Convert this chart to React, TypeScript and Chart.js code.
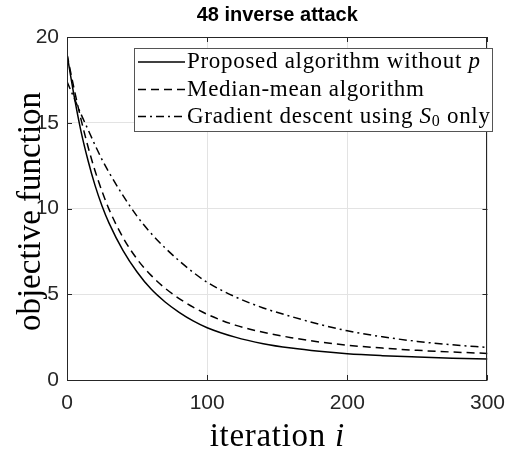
import React, { useEffect, useRef } from "react";
import { Chart, registerables } from "chart.js";

Chart.register(...registerables);

// ---- data ----
const iterations = [0, 5, 10, 15, 20, 25, 30, 40, 50, 60, 70, 80, 90, 100, 120, 140, 160, 180, 200, 225, 250, 275, 300];
const proposed = [19, 16.6, 14.5, 12.8, 11.35, 10.15, 9.15, 7.55, 6.3, 5.3, 4.55, 3.95, 3.45, 3.05, 2.5, 2.12, 1.86, 1.67, 1.53, 1.42, 1.34, 1.27, 1.22];
const medianMean = [19, 17.0, 15.2, 13.6, 12.2, 11.0, 9.95, 8.3, 7.05, 6.1, 5.35, 4.75, 4.25, 3.83, 3.2, 2.78, 2.47, 2.22, 2.03, 1.86, 1.73, 1.63, 1.55];
const gradientS0 = [17.4, 16.45, 15.5, 14.6, 13.7, 12.85, 12.1, 10.75, 9.55, 8.55, 7.7, 6.95, 6.28, 5.7, 4.85, 4.2, 3.7, 3.25, 2.87, 2.52, 2.25, 2.05, 1.9];
const xTicks = [0, 100, 200, 300];
const yTicks = [0, 5, 10, 15, 20];
const seriesLabels = ["Proposed algorithm without p", "Median-mean algorithm", "Gradient descent using S0 only"];
// legend text pieces: [text, style] where style: n = normal, i = italic, s = subscript
const legendParts: [string, string][][] = [
  [["Proposed algorithm without ", "n"], ["p", "i"]],
  [["Median-mean algorithm", "n"]],
  [["Gradient descent using ", "n"], ["S", "i"], ["0", "s"], [" only", "n"]],
];
const chartTitle = "48 inverse attack";
const xTitle: [string, string][] = [["iteration ", "n"], ["i", "i"]];
const yTitle = "objective function";

const AXIS = "#262626";
const SERIF = "'Liberation Serif', 'Times New Roman', serif";
const SANS = "'Liberation Sans', Arial, sans-serif";

const toXY = (ys: number[]) => iterations.map((x, i) => ({ x, y: ys[i] }));

function drawParts(ctx: CanvasRenderingContext2D, parts: [string, string][], x: number, y: number, size: number, spacing: number) {
  let cx = x;
  for (const [t, s] of parts) {
    const fs = s === "s" ? Math.round(size * 0.7) : size;
    ctx.font = `${s === "i" ? "italic " : ""}${fs}px ${SERIF}`;
    (ctx as any).letterSpacing = `${spacing}px`;
    const dy = s === "s" ? size * 0.22 : 0;
    ctx.fillText(t, cx, y + dy);
    cx += ctx.measureText(t).width;
  }
  (ctx as any).letterSpacing = "0px";
  return cx - x;
}

const decorPlugin = {
  id: "matlabDecor",
  afterDraw(chart: any) {
    const ctx: CanvasRenderingContext2D = chart.ctx;
    const { left, right, top, bottom } = chart.chartArea;
    const xs = chart.scales.x;
    const ys = chart.scales.y;
    ctx.save();
    // box
    ctx.strokeStyle = AXIS;
    ctx.lineWidth = 1;
    ctx.strokeRect(Math.round(left) + 0.5, Math.round(top) + 0.5, Math.round(right - left) - 1, Math.round(bottom - top));
    // inward ticks
    const tl = 5;
    ctx.beginPath();
    for (const v of xTicks) {
      const px = Math.round(xs.getPixelForValue(v)) + 0.5;
      ctx.moveTo(px, bottom);
      ctx.lineTo(px, bottom - tl);
      ctx.moveTo(px, top);
      ctx.lineTo(px, top + tl);
    }
    for (const v of yTicks) {
      const py = Math.round(ys.getPixelForValue(v)) + 0.5;
      ctx.moveTo(left, py);
      ctx.lineTo(left + tl, py);
      ctx.moveTo(right, py);
      ctx.lineTo(right - tl, py);
    }
    ctx.stroke();

    // legend
    const lx = 134, ly = 48, lw = 358, lh = 83;
    ctx.fillStyle = "#ffffff";
    ctx.fillRect(lx, ly, lw, lh);
    ctx.strokeStyle = "#555555";
    ctx.strokeRect(lx + 0.5, ly + 0.5, lw, lh);
    const rowY = [62, 89.5, 116.5];
    chart.data.datasets.forEach((ds: any, i: number) => {
      const y = rowY[i];
      ctx.save();
      ctx.strokeStyle = ds.borderColor;
      ctx.lineWidth = ds.borderWidth;
      ctx.setLineDash(ds.borderDash || []);
      ctx.beginPath();
      ctx.moveTo(138, y);
      ctx.lineTo(185, y);
      ctx.stroke();
      ctx.restore();
      ctx.fillStyle = "#000000";
      ctx.textBaseline = "middle";
      ctx.textAlign = "left";
      drawParts(ctx, legendParts[i], 187, y, 23, 0.7);
    });

    // axis titles
    ctx.fillStyle = "#000000";
    ctx.textBaseline = "alphabetic";
    ctx.textAlign = "left";
    (ctx as any).letterSpacing = "0.7px";
    let w = 0;
    for (const [t, s] of xTitle) {
      ctx.font = `${s === "i" ? "italic " : ""}33px ${SERIF}`;
      w += ctx.measureText(t).width;
    }
    (ctx as any).letterSpacing = "0px";
    const cxTitle = (left + right) / 2;
    drawParts(ctx, xTitle, cxTitle - w / 2, 446, 33, 0.7);

    ctx.save();
    ctx.translate(40, (top + bottom) / 2 + 3);
    ctx.rotate(-Math.PI / 2);
    ctx.font = `33px ${SERIF}`;
    ctx.textAlign = "center";
    ctx.fillText(yTitle, 0, 0);
    ctx.restore();

    ctx.restore();
  },
};

export default function App() {
  const ref = useRef<HTMLCanvasElement | null>(null);
  useEffect(() => {
    if (!ref.current) return;
    const chart = new Chart(ref.current, {
      type: "line",
      data: {
        datasets: [
          { label: seriesLabels[0], data: toXY(proposed), borderColor: "#000000", borderWidth: 1.5, borderDash: [], pointRadius: 0, cubicInterpolationMode: "monotone" },
          { label: seriesLabels[1], data: toXY(medianMean), borderColor: "#000000", borderWidth: 1.5, borderDash: [8, 5], pointRadius: 0, cubicInterpolationMode: "monotone" },
          { label: seriesLabels[2], data: toXY(gradientS0), borderColor: "#000000", borderWidth: 1.5, borderDash: [8, 4, 2, 4], pointRadius: 0, cubicInterpolationMode: "monotone" },
        ] as any,
      },
      options: {
        animation: false,
        responsive: false,
        devicePixelRatio: 1,
        layout: { padding: { left: 0, right: 20, top: 0, bottom: 0 } },
        plugins: {
          legend: { display: false },
          tooltip: { enabled: false },
          title: {
            display: true,
            fullSize: false,
            text: chartTitle,
            color: "#000000",
            font: { family: SANS, size: 20, weight: "bold" },
            padding: { top: 3, bottom: 10 },
          },
        },
        scales: {
          x: {
            type: "linear",
            min: 0,
            max: 300,
            afterFit: (s: any) => { s.height = 72; },
            afterBuildTicks: (s: any) => { s.ticks = xTicks.map((v) => ({ value: v })); },
            ticks: { color: AXIS, padding: 11, font: { family: SANS, size: 21 }, maxRotation: 0 },
            grid: { color: "#e3e3e3", drawTicks: false, lineWidth: 1 },
            border: { display: false },
          },
          y: {
            type: "linear",
            min: 0,
            max: 20,
            afterFit: (s: any) => { s.width = 67; },
            afterBuildTicks: (s: any) => { s.ticks = yTicks.map((v) => ({ value: v })); },
            ticks: { color: AXIS, padding: 8, font: { family: SANS, size: 21 } },
            grid: { color: "#e3e3e3", drawTicks: false, lineWidth: 1 },
            border: { display: false },
          },
        },
      } as any,
      plugins: [decorPlugin],
    });
    return () => chart.destroy();
  }, []);
  return (
    <div style={{ position: "absolute", left: 0, top: 0, width: 516, height: 452, background: "#fff" }}>
      <canvas ref={ref} width={516} height={452} style={{ width: 516, height: 452, display: "block" }} />
    </div>
  );
}
